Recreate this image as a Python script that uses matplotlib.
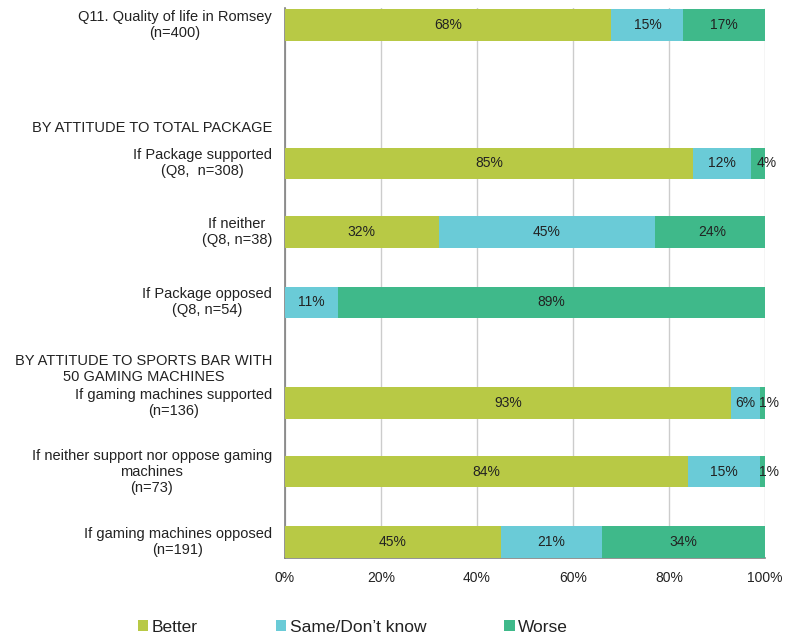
import matplotlib.pyplot as plt

plt.rcParams['font.family'] = ['Liberation Sans', 'DejaVu Sans']

row_labels = [
    'Q11. Quality of life in Romsey\n(n=400)',
    'If Package supported\n(Q8,  n=308)',
    'If neither\n(Q8, n=38)',
    'If Package opposed\n(Q8, n=54)',
    'If gaming machines supported\n(n=136)',
    'If neither support nor oppose gaming\nmachines\n(n=73)',
    'If gaming machines opposed\n(n=191)',
]
better = [68, 85, 32, 0, 93, 84, 45]
same = [15, 12, 45, 11, 6, 15, 21]
worse = [17, 4, 24, 89, 1, 1, 34]

series = ['Better', 'Same/Don\u2019t know', 'Worse']
colors = ['#b8c945', '#6acbd7', '#3fb98a']

headers = ['BY ATTITUDE TO TOTAL PACKAGE',
           'BY ATTITUDE TO SPORTS BAR WITH\n50 GAMING MACHINES']

# vertical layout (row units, top to bottom)
ypos = [0, 1.99, 2.98, 3.99, 5.44, 6.43, 7.44]
header_pos = [1.48, 4.95]

fig = plt.figure(figsize=(7.85, 6.39), dpi=100)
ax = fig.add_axes([285 / 785, 1 - 558 / 639, 480 / 785, 550 / 639])

left = [0] * len(better)
for k, (vals, name, col) in enumerate(zip([better, same, worse], series, colors)):
    ax.barh(ypos, vals, left=left, height=0.45, color=col, label=name, zorder=3)
    for y, v, l in zip(ypos, vals, left):
        if v <= 0:
            continue
        # tiny end segments: push the label a little to the right
        dx = 6 if (k == 2 and v < 5) else 0
        ax.annotate(f'{v}%', (l + v / 2, y), xytext=(dx, 0), textcoords='offset pixels',
                    ha='center', va='center', fontsize=10, color='#222222', zorder=4)
    left = [a + b for a, b in zip(left, vals)]

ax.set_xlim(0, 100)
ax.set_ylim(7.67, -0.245)
ax.set_xticks(range(0, 101, 20))
ax.set_xticklabels([f'{t}%' for t in range(0, 101, 20)], fontsize=10, color='#222222')
ax.tick_params(axis='x', length=0, pad=9)
ax.set_yticks([])
ax.grid(axis='x', color='#cccccc', linewidth=1, zorder=0)

for s in ['top', 'right']:
    ax.spines[s].set_visible(False)
for s in ['left', 'bottom']:
    ax.spines[s].set_color('#808080')
    ax.spines[s].set_linewidth(1.2)

tr = ax.get_yaxis_transform()
for y, lab in zip(ypos, row_labels):
    ax.text(-0.027, y, lab, transform=tr, ha='right', va='center',
            multialignment='center', fontsize=10.5, color='#222222', linespacing=1.2)
for y, lab in zip(header_pos, headers):
    ax.text(-0.027, y, lab, transform=tr, ha='right', va='center',
            multialignment='center', fontsize=10.5, color='#222222', linespacing=1.2)

fig.legend(loc='center', bbox_to_anchor=(353 / 785, 1 - 627 / 639), ncol=3,
           frameon=False, fontsize=12.5, handlelength=0.6, handleheight=0.6,
           handletextpad=0.2, columnspacing=4.5, labelcolor='#222222')

plt.savefig('out.png', dpi=100)
